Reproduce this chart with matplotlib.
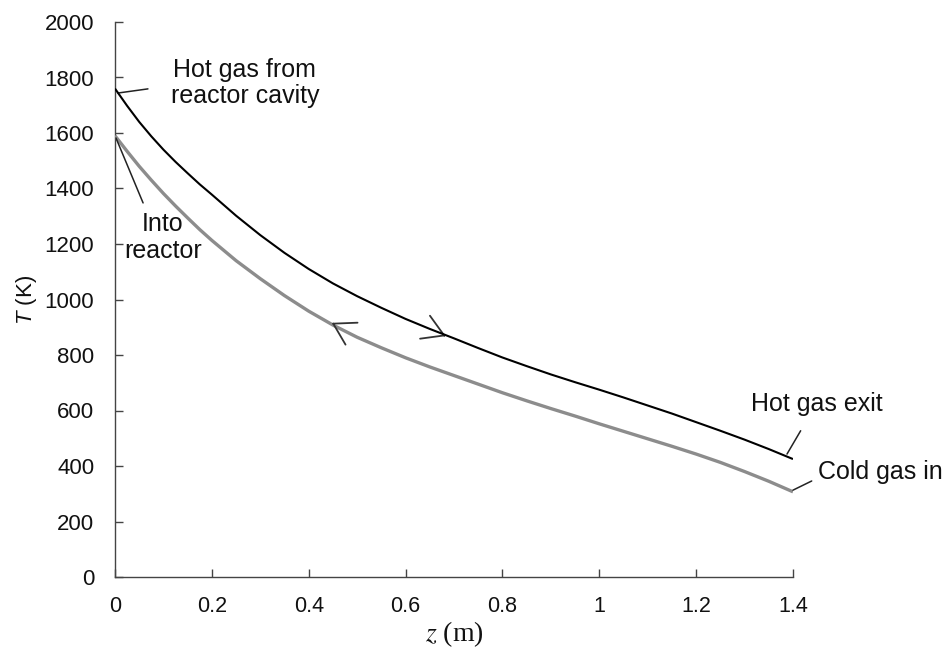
import matplotlib
matplotlib.use("Agg")
import matplotlib.pyplot as plt

# ---- data ----
z_hot = [0, 0.025, 0.05, 0.075, 0.1, 0.125, 0.15, 0.175, 0.2, 0.25, 0.3, 0.35, 0.4, 0.45, 0.5,
         0.55, 0.6, 0.65, 0.7, 0.75, 0.8, 0.85, 0.9, 0.95, 1.0, 1.05, 1.1, 1.15, 1.2, 1.25, 1.3, 1.35, 1.4]
T_hot = [1760, 1698, 1640, 1588, 1540, 1496, 1455, 1415, 1378, 1302, 1232, 1168, 1110, 1058, 1012,
         970, 930, 894, 860, 825, 791, 760, 730, 702, 675, 647, 618, 589, 558, 527, 495, 461, 425]

z_cold = [0, 0.025, 0.05, 0.075, 0.1, 0.125, 0.15, 0.175, 0.2, 0.25, 0.3, 0.35, 0.4, 0.45, 0.5,
          0.55, 0.6, 0.65, 0.7, 0.75, 0.8, 0.85, 0.9, 0.95, 1.0, 1.05, 1.1, 1.15, 1.2, 1.25, 1.3, 1.35, 1.4]
T_cold = [1590, 1534, 1480, 1430, 1382, 1337, 1294, 1252, 1213, 1140, 1075, 1014, 958, 908, 864,
          826, 790, 757, 726, 695, 664, 635, 607, 580, 552, 525, 498, 471, 443, 413, 380, 345, 307]

x_ticks = [0, 0.2, 0.4, 0.6, 0.8, 1.0, 1.2, 1.4]
x_tick_labels = ["0", "0.2", "0.4", "0.6", "0.8", "1", "1.2", "1.4"]
y_ticks = [0, 200, 400, 600, 800, 1000, 1200, 1400, 1600, 1800, 2000]

plt.rcParams['mathtext.fontset'] = 'custom'
plt.rcParams['mathtext.it'] = 'Liberation Sans:italic'
plt.rcParams['mathtext.rm'] = 'Liberation Sans'

fig = plt.figure(figsize=(9.48, 6.52), dpi=100)
ax = fig.add_axes([115/948, 1-577/652, (793-115)/948, (577-22)/652])

ax.plot(z_cold, T_cold, color='#8c8c8c', lw=2.4, solid_capstyle='butt', solid_joinstyle='round', zorder=3)
ax.plot(z_hot, T_hot, color='black', lw=1.5, solid_capstyle='butt', solid_joinstyle='round', zorder=4)

ax.set_xlim(0, 1.4)
ax.set_ylim(0, 2000)
ax.set_xticks(x_ticks)
ax.set_xticklabels(x_tick_labels, family=['Liberation Sans Narrow', 'Liberation Sans'], fontsize=15.5)
ax.set_yticks(y_ticks)
ax.set_yticklabels([str(v) for v in y_ticks], family='Liberation Sans', fontsize=16)
for s in ['top', 'right']:
    ax.spines[s].set_visible(False)
for s in ['left', 'bottom']:
    ax.spines[s].set_color('#444444')
    ax.spines[s].set_linewidth(1.0)
ax.tick_params(axis='both', direction='in', length=6, width=1.0, color='#444444', labelcolor='#111111')
ax.tick_params(axis='y', pad=15)
ax.tick_params(axis='x', pad=14)

ax.set_xlabel('$z$ (m)', family='Liberation Serif', math_fontfamily='stix', fontsize=20, color='#111111')
ax.xaxis.set_label_coords(0.5, -0.076)
ax.set_ylabel('$T$ (K)', family='Liberation Sans', fontsize=16, color='#111111')
ax.yaxis.set_label_coords(-0.112, 0.5)

tcol = '#111111'
fs = 18
line_kw = dict(arrowstyle='-', color='#222222', lw=1.1, shrinkA=0, shrinkB=0)

# annotations
ax.text(0.268, 1780, 'Hot gas from\nreactor cavity', ha='center', va='center', fontsize=fs,
        family='Liberation Sans', color=tcol, linespacing=1.15)
ax.annotate('', xy=(0.006, 1744), xytext=(0.068, 1759), arrowprops=line_kw, annotation_clip=False)

ax.text(0.099, 1222, 'Into\nreactor', ha='center', va='center', fontsize=fs,
        family='Liberation Sans', color=tcol, linespacing=1.15, multialignment='center')
ax.annotate('', xy=(0.002, 1582), xytext=(0.058, 1348), arrowprops=line_kw, annotation_clip=False)

ax.text(1.4495, 623, 'Hot gas exit', ha='center', va='center', fontsize=fs,
        family='Liberation Sans', color=tcol, clip_on=False)
ax.annotate('', xy=(1.3876, 443), xytext=(1.4158, 527), arrowprops=line_kw, annotation_clip=False)

ax.text(1.4516, 378, 'Cold gas in', ha='left', va='center', fontsize=fs,
        family='Liberation Sans', color=tcol, clip_on=False)
ax.annotate('', xy=(1.4, 313), xytext=(1.4386, 346), arrowprops=line_kw, annotation_clip=False)

# flow direction arrowheads
head_kw = dict(arrowstyle='->,head_length=0.75,head_width=0.45', color='#333333', lw=1.3,
               shrinkA=0, shrinkB=0, mutation_scale=20)
ax.annotate('', xy=(0.683, 868), xytext=(0.679, 871), arrowprops=head_kw)
ax.annotate('', xy=(0.4475, 916), xytext=(0.452, 911.7), arrowprops=head_kw)

fig.savefig('out.png', dpi=100, facecolor='white')
